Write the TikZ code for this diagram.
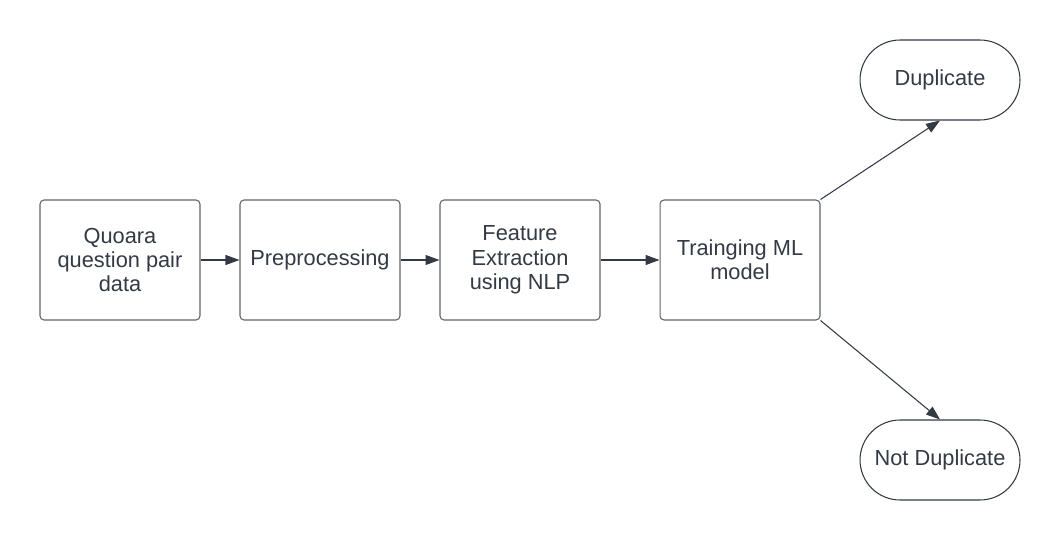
\documentclass[tikz,border=0pt]{standalone}
\usepackage{fontspec}
\setmainfont{Liberation Sans}
\usetikzlibrary{arrows.meta}
\definecolor{ink}{HTML}{333A44}
\definecolor{edge}{HTML}{5F646B}
\tikzset{
  stepbox/.style={draw=edge,line width=0.6pt,rounded corners=0.08cm,minimum width=3.2cm,minimum height=2.4cm,align=center,text=ink,font=\fontsize{12.4}{13.8}\selectfont},
  endbox/.style={draw=ink,line width=0.6pt,rounded corners=0.8cm,minimum width=3.2cm,minimum height=1.6cm,align=center,text=ink,font=\fontsize{12.4}{13.8}\selectfont},
  flow/.style={draw=ink,line width=0.6pt,-{Triangle[length=0.28cm,width=0.2cm]}}
}
\begin{document}
\begin{tikzpicture}[x=0.02cm,y=-0.02cm]
\useasboundingbox[fill=white] (0,0) rectangle (1060,540);
\node[stepbox] (data) at (120,260) {Quoara\\question pair\\data};
\node[stepbox] (prep) at (320,260) {Preprocessing};
\node[stepbox] (feat) at (520,260) {Feature\\Extraction\\using NLP};
\node[stepbox] (train) at (740,260) {Trainging ML\\model};
\node[endbox] (dup) at (940,80) {Duplicate};
\node[endbox] (ndup) at (940,460) {Not Duplicate};
\draw[flow] (data.east) -- (prep.west);
\draw[flow] (prep.east) -- (feat.west);
\draw[flow] (feat.east) -- (train.west);
\draw[flow] (train.north east) -- (dup.south);
\draw[flow] (train.south east) -- (ndup.north);
\end{tikzpicture}
\end{document}
